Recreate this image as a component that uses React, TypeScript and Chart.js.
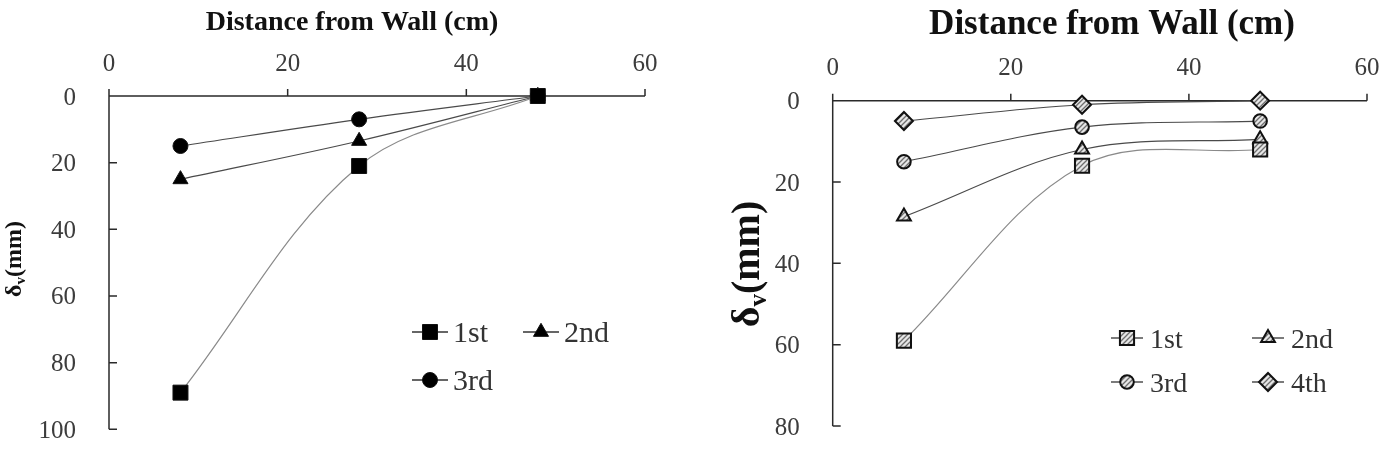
import { useEffect, useRef } from "react";
import { Chart, registerables } from "chart.js";
import { drawPoint } from "chart.js/helpers";

Chart.register(...registerables);

const FONT = '"Liberation Serif", "Times New Roman", serif';

// ---- data ----
const distances = [8, 28, 48];
const xTickValues = [0, 20, 40, 60];
const leftYTickValues = [0, 20, 40, 60, 80, 100];
const rightYTickValues = [0, 20, 40, 60, 80];

const leftSeriesLabels = ["1st", "2nd", "3rd"];
const left1st = [89, 21, 0];
const left2nd = [25, 13.5, 0];
const left3rd = [15, 7, 0];

const rightSeriesLabels = ["1st", "2nd", "3rd", "4th"];
const right1st = [59, 16, 12];
const right2nd = [28.5, 12, 9.5];
const right3rd = [15, 6.5, 5];
const right4th = [5, 1, 0];

const xTitleText = "Distance from Wall (cm)";
const yTitleMain = "δ";
const yTitleSub = "v";
const yTitleUnit = "(mm)";

// ---- plugin: axes, ticks, titles, legend ----
const decoPlugin = {
  id: "deco",
  beforeDatasetsDraw(chart: any, _a: any, o: any) {
    const { ctx } = chart;
    const x = chart.scales.x;
    const y = chart.scales.y;
    const x0 = x.getPixelForValue(0);
    const y0 = y.getPixelForValue(0);
    const xEnd = x.getPixelForValue(x.max);
    const yEnd = y.getPixelForValue(y.max);
    ctx.save();
    ctx.strokeStyle = "#2a2a2a";
    ctx.lineWidth = 1.5;
    ctx.beginPath();
    ctx.moveTo(x0, y0);
    ctx.lineTo(xEnd, y0);
    ctx.moveTo(x0, yEnd);
    ctx.lineTo(x0, y0);
    x.ticks.forEach((t: any) => {
      const px = x.getPixelForValue(t.value);
      ctx.moveTo(px, y0);
      ctx.lineTo(px, y0 - o.xTickLen);
    });
    y.ticks.forEach((t: any) => {
      if (t.value === 0) return;
      const py = y.getPixelForValue(t.value);
      ctx.moveTo(x0, py);
      ctx.lineTo(x0 + o.yTickLen, py);
    });
    ctx.stroke();

    // tick labels
    ctx.fillStyle = "#3c3c3c";
    ctx.font = `${o.tickSize}px ${FONT}`;
    ctx.textBaseline = "alphabetic";
    ctx.textAlign = "center";
    x.ticks.forEach((t: any) => {
      const px = x.getPixelForValue(t.value);
      ctx.fillText(String(t.value), px, y0 - o.xLabelOffset + o.tickSize * 0.34);
    });
    ctx.textAlign = "right";
    y.ticks.forEach((t: any) => {
      const py = y.getPixelForValue(t.value);
      ctx.fillText(String(t.value), x0 - o.yLabelGap, py + o.tickSize * 0.34);
    });

    // x title
    ctx.fillStyle = "#111";
    ctx.textAlign = "center";
    ctx.font = `bold ${o.xTitleSize}px ${FONT}`;
    ctx.fillText(xTitleText, o.xTitleX, o.xTitleY + o.xTitleSize * 0.34);

    // y title (rotated, with subscript)
    const s = o.yTitleSize;
    const sub = s * 0.62;
    ctx.font = `bold ${s}px ${FONT}`;
    const wMain = ctx.measureText(yTitleMain).width;
    const wUnit = ctx.measureText(yTitleUnit).width;
    ctx.font = `bold ${sub}px ${FONT}`;
    const wSub = ctx.measureText(yTitleSub).width;
    const total = wMain + wSub + wUnit;
    ctx.translate(o.yTitleX, o.yTitleY);
    ctx.rotate(-Math.PI / 2);
    ctx.textAlign = "left";
    let cx = -total / 2;
    const base = s * 0.25;
    ctx.font = `bold ${s}px ${FONT}`;
    ctx.fillText(yTitleMain, cx, base);
    cx += wMain;
    ctx.font = `bold ${sub}px ${FONT}`;
    ctx.fillText(yTitleSub, cx, base + s * 0.18);
    cx += wSub;
    ctx.font = `bold ${s}px ${FONT}`;
    ctx.fillText(yTitleUnit, cx, base);
    ctx.restore();
  },
  afterDatasetsDraw(chart: any, _a: any, o: any) {
    const { ctx } = chart;
    const L = o.legend;
    ctx.save();
    chart.data.datasets.forEach((d: any, i: number) => {
      const col = i % 2;
      const row = Math.floor(i / 2);
      const lx = L.x + col * L.colGap;
      const ly = L.y + row * L.rowGap;
      ctx.strokeStyle = d.legendLineColor || d.borderColor;
      ctx.lineWidth = 1.3;
      ctx.beginPath();
      ctx.moveTo(lx, ly);
      ctx.lineTo(lx + L.lineLen, ly);
      ctx.stroke();
      ctx.fillStyle = d.pointBackgroundColor;
      ctx.strokeStyle = d.pointBorderColor;
      ctx.lineWidth = d.pointBorderWidth;
      drawPoint(
        ctx,
        { pointStyle: d.pointStyle, radius: d.pointRadius, borderWidth: d.pointBorderWidth, rotation: 0 } as any,
        lx + L.lineLen / 2,
        ly
      );
      ctx.fillStyle = "#333";
      ctx.font = `${L.size}px ${FONT}`;
      ctx.textAlign = "left";
      ctx.textBaseline = "alphabetic";
      ctx.fillText(d.label, lx + L.lineLen + L.textGap, ly + L.size * 0.34);
    });
    ctx.restore();
  },
};

function makeSeries(
  label: string,
  values: number[],
  pointStyle: string,
  radius: number,
  fill: any,
  lineColor: string,
  borderWidth: number
) {
  return {
    label,
    data: distances.map((d, i) => ({ x: d, y: values[i] })),
    pointStyle,
    pointRadius: radius,
    pointHoverRadius: radius,
    pointBackgroundColor: fill,
    pointBorderColor: "#111",
    pointBorderWidth: borderWidth,
    borderColor: lineColor,
    legendLineColor: "#333",
    borderWidth: 1.2,
    tension: 0.35,
    clip: false,
    fill: false,
  };
}

function baseOptions(yMax: number, yTicks: number[], padding: any, deco: any) {
  return {
    responsive: false,
    animation: false,
    devicePixelRatio: 1,
    layout: { padding },
    plugins: { legend: { display: false }, tooltip: { enabled: false }, deco },
    scales: {
      x: {
        type: "linear",
        position: "top",
        min: 0,
        max: 60,
        display: false,
        afterBuildTicks: (s: any) => {
          s.ticks = xTickValues.map((v) => ({ value: v }));
        },
      },
      y: {
        type: "linear",
        min: 0,
        max: yMax,
        reverse: true,
        display: false,
        afterBuildTicks: (s: any) => {
          s.ticks = yTicks.map((v) => ({ value: v }));
        },
      },
    },
  };
}

function buildLeft() {
  return {
    type: "line",
    data: {
      datasets: [
        makeSeries(leftSeriesLabels[0], left1st, "rect", 10.6, "#000", "#8a8a8a", 1),
        makeSeries(leftSeriesLabels[1], left2nd, "triangle", 8.7, "#000", "#4a4a4a", 1),
        makeSeries(leftSeriesLabels[2], left3rd, "circle", 7.5, "#000", "#4a4a4a", 1),
      ],
    },
    options: baseOptions(100, leftYTickValues, { left: 109, top: 96, right: 47, bottom: 20.7 }, {
      xTickLen: 7,
      yTickLen: 8,
      tickSize: 25,
      xLabelOffset: 34,
      yLabelGap: 33,
      xTitleX: 352,
      xTitleY: 20,
      xTitleSize: 28,
      yTitleX: 15,
      yTitleY: 259,
      yTitleSize: 24,
      legend: { x: 412, y: 332, colGap: 111, rowGap: 48, lineLen: 36, textGap: 5, size: 30 },
    }),
    plugins: [decoPlugin],
  };
}

function makeHatch() {
  const c = document.createElement("canvas");
  c.width = 5;
  c.height = 5;
  const g = c.getContext("2d")!;
  g.fillStyle = "#e6e6e6";
  g.fillRect(0, 0, 5, 5);
  g.strokeStyle = "#6e6e6e";
  g.lineWidth = 1.3;
  g.beginPath();
  g.moveTo(-1, 6);
  g.lineTo(6, -1);
  g.moveTo(-1, 1);
  g.lineTo(1, -1);
  g.moveTo(4, 6);
  g.lineTo(6, 4);
  g.stroke();
  return g.createPattern(c, "repeat");
}

function buildRight() {
  const hatch = makeHatch();
  return {
    type: "line",
    data: {
      datasets: [
        makeSeries(rightSeriesLabels[0], right1st, "rect", 10, hatch, "#8a8a8a", 2),
        makeSeries(rightSeriesLabels[1], right2nd, "triangle", 8, hatch, "#4a4a4a", 2),
        makeSeries(rightSeriesLabels[2], right3rd, "circle", 6.8, hatch, "#4a4a4a", 2),
        makeSeries(rightSeriesLabels[3], right4th, "rectRot", 9, hatch, "#4a4a4a", 2),
      ],
    },
    options: baseOptions(80, rightYTickValues, { left: 140.7, top: 100.7, right: 18, bottom: 24 }, {
      xTickLen: 7,
      yTickLen: 8,
      tickSize: 25,
      xLabelOffset: 34,
      yLabelGap: 33,
      xTitleX: 420,
      xTitleY: 22,
      xTitleSize: 35,
      yTitleX: 57,
      yTitleY: 264,
      yTitleSize: 40,
      legend: { x: 419, y: 338, colGap: 141, rowGap: 44, lineLen: 32, textGap: 7, size: 28 },
    }),
    plugins: [decoPlugin],
  };
}

function ChartCanvas({ left, width, height, build }: { left: number; width: number; height: number; build: () => any }) {
  const ref = useRef<HTMLCanvasElement>(null);
  useEffect(() => {
    const chart = new Chart(ref.current as HTMLCanvasElement, build());
    return () => chart.destroy();
  }, []);
  return (
    <canvas
      ref={ref}
      width={width}
      height={height}
      style={{ position: "absolute", left, top: 0, width, height }}
    />
  );
}

export default function App() {
  return (
    <div style={{ position: "absolute", left: 0, top: 0, width: 1385, height: 450, background: "#fff", overflow: "hidden" }}>
      <ChartCanvas left={0} width={692} height={450} build={buildLeft} />
      <ChartCanvas left={692} width={693} height={450} build={buildRight} />
    </div>
  );
}
